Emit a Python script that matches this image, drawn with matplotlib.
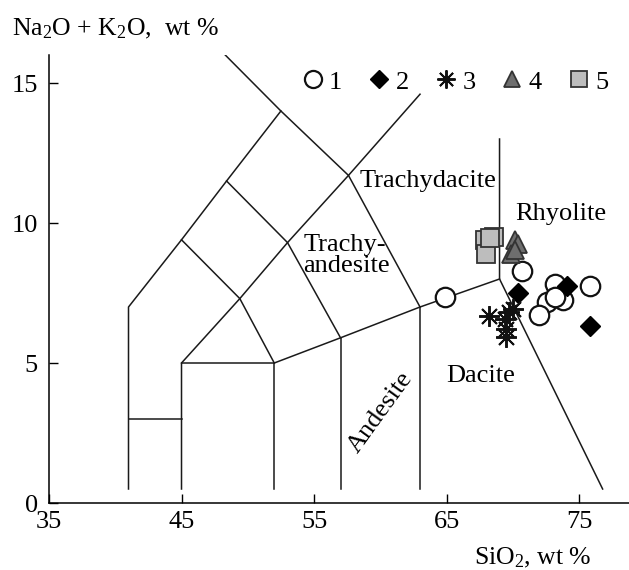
import matplotlib
matplotlib.use("Agg")
import matplotlib.pyplot as plt

plt.rcParams['font.family'] = ['Liberation Serif', 'DejaVu Serif']
plt.rcParams['mathtext.fontset'] = 'custom'
plt.rcParams['mathtext.rm'] = 'Liberation Serif'
plt.rcParams['mathtext.it'] = 'Liberation Serif:italic'

# ---- data (SiO2, Na2O+K2O) ----
g1_x = [64.9, 70.7, 73.2, 75.8, 73.8, 72.6, 73.2, 72.0]
g1_y = [7.37, 8.27, 7.83, 7.75, 7.24, 7.18, 7.36, 6.70]
g2_x = [70.4, 74.1, 75.8]
g2_y = [7.51, 7.75, 6.32]
g3_x = [68.2, 69.7, 70.0, 69.4, 69.5, 69.5]
g3_y = [6.68, 6.82, 6.92, 6.58, 6.23, 5.93]
g4_x = [70.2, 70.4, 69.9, 70.2]
g4_y = [9.38, 9.26, 8.90, 9.05]
g5_x = [67.9, 68.6, 68.0, 68.3]
g5_y = [9.38, 9.50, 8.90, 9.45]
legend_labels = ['1', '2', '3', '4', '5']

# TAS boundary polylines
tas_lines = [
    [(41, 0.5), (41, 7), (45, 9.4), (48.4, 11.5), (52.5, 14)],
    [(48.3, 16), (52.5, 14), (57.6, 11.7), (63, 7)],
    [(45, 0.5), (45, 5), (52, 5), (57, 5.9), (63, 7), (69, 8)],
    [(41, 3), (45, 3)],
    [(45, 5), (49.4, 7.3), (53, 9.3), (57.6, 11.7), (63, 14.6)],
    [(45, 9.4), (49.4, 7.3), (52, 5)],
    [(48.4, 11.5), (53, 9.3), (57, 5.9)],
    [(52, 0.5), (52, 5)],
    [(57, 0.5), (57, 5.9)],
    [(63, 0.5), (63, 7)],
    [(69, 13), (69, 8), (76.78, 0.5)],
]

x_ticks = [35, 45, 55, 65, 75]
y_ticks = [0, 5, 10, 15]

fig = plt.figure(figsize=(6.29, 5.70), dpi=100)
ax = fig.add_axes([49/629, 1-503/570, 1-49/629, 448/570])
ax.set_xlim(35, 78.77)
ax.set_ylim(0, 16)

for ln in tas_lines:
    xs = [p[0] for p in ln]
    ys = [p[1] for p in ln]
    ax.plot(xs, ys, color='#1a1a1a', lw=1.1, zorder=1)

ax.plot(g1_x, g1_y, 'o', ms=14, mfc='white', mec='#111111', mew=1.6, ls='none', label=legend_labels[0], zorder=3)
ax.plot(g2_x, g2_y, 'D', ms=10, mfc='black', mec='black', mew=1, ls='none', label=legend_labels[1], zorder=4)
ax.plot(g3_x, g3_y, marker=(8, 2, 0), ms=15, mec='#111111', mew=1.4, ls='none', label=legend_labels[2], zorder=4)
ax.plot(g4_x, g4_y, '^', ms=13, mfc='#6e6e6e', mec='#333333', mew=1.3, ls='none', label=legend_labels[3], zorder=4)
ax.plot(g5_x, g5_y, 's', ms=13, mfc='#bdbdbd', mec='#333333', mew=1.3, ls='none', label=legend_labels[4], zorder=3)

ax.legend(loc='center left', bbox_to_anchor=(0.432, 0.94), ncol=5, frameon=False,
          fontsize=19, borderpad=0, borderaxespad=0, handlelength=1.0,
          handletextpad=0.12, columnspacing=0.9, markerscale=0.88)

for s in ['top', 'right']:
    ax.spines[s].set_visible(False)
for s in ['left', 'bottom']:
    ax.spines[s].set_linewidth(1.1)

ax.set_xticks(x_ticks)
ax.set_yticks(y_ticks)
ax.tick_params(axis='both', direction='in', length=6.5, width=1.0, labelsize=19)
ax.tick_params(axis='x', pad=6)
ax.tick_params(axis='y', pad=8)

lab_fs = 19
ax.text(58.42, 11.30, 'Trachydacite', fontsize=lab_fs, ha='left', va='baseline')
ax.text(54.2, 9.01, 'Trachy-', fontsize=lab_fs, ha='left', va='baseline')
ax.text(54.2, 8.26, 'andesite', fontsize=lab_fs, ha='left', va='baseline')
ax.text(70.17, 10.10, 'Rhyolite', fontsize=lab_fs, ha='left', va='baseline')
ax.text(65.0, 4.33, 'Dacite', fontsize=lab_fs, ha='left', va='baseline')
ax.text(60.04, 3.23, 'Andesite', fontsize=lab_fs, ha='center', va='center',
        rotation=54, rotation_mode='anchor')

fig.text(12/629, 1-35/570, r'Na$_2$O + K$_2$O,  wt %', fontsize=18.5, ha='left', va='baseline')
fig.text(592/629, 1-564/570, r'SiO$_2$, wt %', fontsize=18.5, ha='right', va='baseline')

fig.savefig('out.png', dpi=100)
